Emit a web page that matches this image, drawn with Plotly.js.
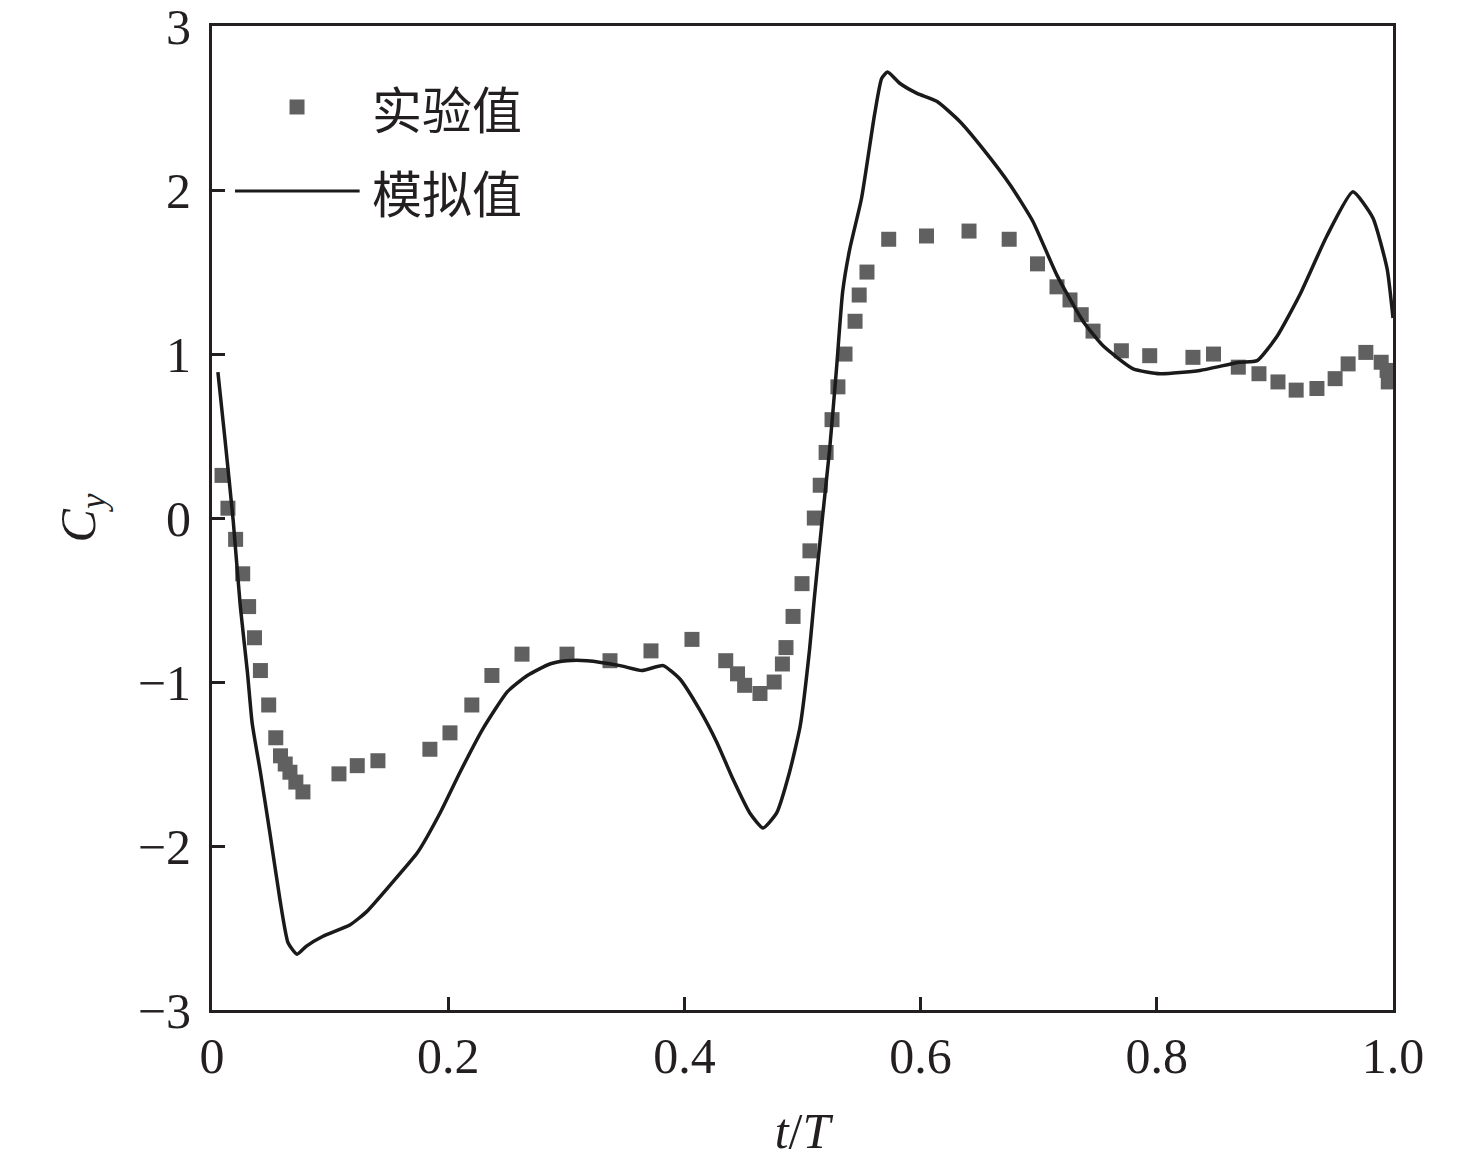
<!DOCTYPE html>
<html>
<head>
<meta charset="utf-8">
<script src="https://cdn.plot.ly/plotly-3.0.1.min.js"></script>
<style>
  html, body { margin: 0; padding: 0; background: #fff; }
  #myPlot { width: 1476px; height: 1163px; }
</style>
</head>
<body>
<div id="myPlot"></div>
<script>
const expT = [0.0085, 0.0135, 0.020, 0.026, 0.031, 0.036, 0.041, 0.048, 0.054, 0.058, 0.062, 0.066,
  0.071, 0.077, 0.1075, 0.123, 0.1405, 0.1845, 0.2015, 0.220, 0.237, 0.2625, 0.3006, 0.337,
  0.3717, 0.4064, 0.435, 0.445, 0.451, 0.464, 0.476, 0.483, 0.486, 0.492, 0.4996, 0.5063,
  0.510, 0.515, 0.520, 0.525, 0.530, 0.536, 0.5445, 0.548, 0.5546, 0.573, 0.605, 0.641,
  0.675, 0.699, 0.7155, 0.7265, 0.736, 0.746, 0.770, 0.794, 0.8306, 0.848, 0.869, 0.8865,
  0.9026, 0.918, 0.9356, 0.951, 0.962, 0.977, 0.990, 0.995, 0.996];
const expCy = [0.26, 0.06, -0.13, -0.34, -0.54, -0.73, -0.93, -1.14, -1.34, -1.45, -1.50, -1.55,
  -1.61, -1.67, -1.56, -1.51, -1.48, -1.41, -1.31, -1.14, -0.96, -0.83, -0.83, -0.87,
  -0.81, -0.74, -0.87, -0.95, -1.02, -1.07, -1.00, -0.89, -0.79, -0.60, -0.40, -0.20,
  0.00, 0.20, 0.40, 0.60, 0.80, 1.00, 1.20, 1.36, 1.50, 1.70, 1.72, 1.75,
  1.70, 1.55, 1.41, 1.33, 1.24, 1.14, 1.02, 0.99, 0.98, 1.00, 0.92, 0.88,
  0.83, 0.78, 0.79, 0.85, 0.94, 1.01, 0.95, 0.90, 0.83];

// Simulated values (solid line)
const simT = [0.005, 0.011, 0.018, 0.024, 0.030, 0.034, 0.041, 0.049, 0.0576, 0.0644, 0.072, 0.080,
  0.094, 0.117, 0.131, 0.153, 0.174, 0.193, 0.210, 0.229, 0.250, 0.267, 0.286, 0.3006,
  0.3175, 0.3455, 0.364, 0.382, 0.396, 0.413, 0.4276, 0.441, 0.4555, 0.4666, 0.478, 0.489,
  0.498, 0.506, 0.510, 0.517, 0.523, 0.529, 0.534, 0.540, 0.550, 0.561, 0.567, 0.572,
  0.5826, 0.597, 0.614, 0.633, 0.653, 0.676, 0.695, 0.7155, 0.7375, 0.7545, 0.780, 0.803,
  0.8366, 0.870, 0.885, 0.902, 0.921, 0.944, 0.966, 0.983, 0.995, 1.000];
const simCy = [0.89, 0.48, -0.02, -0.54, -0.94, -1.25, -1.55, -1.92, -2.33, -2.59, -2.66, -2.61,
  -2.55, -2.48, -2.40, -2.22, -2.04, -1.80, -1.55, -1.29, -1.06, -0.96, -0.89, -0.87,
  -0.87, -0.90, -0.93, -0.90, -0.98, -1.17, -1.37, -1.59, -1.80, -1.89, -1.80, -1.55,
  -1.27, -0.80, -0.49, 0.01, 0.42, 0.93, 1.38, 1.64, 1.95, 2.46, 2.68, 2.72,
  2.65, 2.59, 2.54, 2.42, 2.25, 2.03, 1.81, 1.48, 1.20, 1.05, 0.91, 0.88,
  0.90, 0.95, 0.96, 1.11, 1.36, 1.72, 1.99, 1.83, 1.52, 1.22];

const xTickVals = [0, 0.2, 0.4, 0.6, 0.8, 1.0];
const xTickText = ['0', '0.2', '0.4', '0.6', '0.8', '1.0'];
const yTickVals = [-3, -2, -1, 0, 1, 2, 3];
const yTickText = ['\u22123', '\u22122', '\u22121', '0', '1', '2', '3'];

const legendNames = ['实验值', '模拟值'];

const axisColor = '#231f20';
const serif = 'Liberation Serif, Times New Roman, serif';
const cjk = 'Noto Sans CJK SC, sans-serif';

const data = [{
  x: expT,
  y: expCy,
  mode: 'markers',
  type: 'scatter',
  name: legendNames[0],
  marker: {symbol: 'square', size: 15, color: '#606060'},
  showlegend: false
}, {
  x: simT,
  y: simCy,
  mode: 'lines',
  type: 'scatter',
  name: legendNames[1],
  line: {color: '#1a1a1a', width: 3.5, shape: 'spline', smoothing: 0.5},
  showlegend: false
}];

// Hand-drawn legend in the upper left corner (paper coordinates)
const shapes = [{
  type: 'rect', xref: 'paper', yref: 'paper',
  xsizemode: 'pixel', ysizemode: 'pixel',
  xanchor: 0.072, yanchor: 0.9177,
  x0: -7.5, x1: 7.5, y0: -7.5, y1: 7.5,
  fillcolor: '#606060', line: {width: 0}
}, {
  type: 'line', xref: 'paper', yref: 'paper',
  x0: 0.0195, x1: 0.125, y0: 0.8323, y1: 0.8323,
  line: {color: '#1a1a1a', width: 3}
}];

const annotations = [{
  xref: 'paper', yref: 'paper', x: 0.134, y: 0.9177,
  xanchor: 'left', yanchor: 'middle', showarrow: false,
  text: legendNames[0], font: {family: cjk, size: 50, color: '#231f20'}
}, {
  xref: 'paper', yref: 'paper', x: 0.134, y: 0.8323,
  xanchor: 'left', yanchor: 'middle', showarrow: false,
  text: legendNames[1], font: {family: cjk, size: 50, color: '#231f20'}
}];

const layout = {
  width: 1476,
  height: 1163,
  margin: {l: 212, r: 83, t: 26, b: 153},
  paper_bgcolor: '#fff',
  plot_bgcolor: '#fff',
  font: {family: serif, size: 50, color: '#231f20'},
  xaxis: {
    range: [0, 1],
    tickmode: 'array',
    tickvals: xTickVals,
    ticktext: xTickText,
    ticks: 'inside', ticklen: 13, tickwidth: 3, tickcolor: axisColor,
    showline: true, linewidth: 3, linecolor: axisColor, mirror: true,
    showgrid: false, zeroline: false,
    ticklabelstandoff: 0,
    ticklabeloverflow: 'allow',
    title: {text: '<i>t</i>/<i>T</i>', font: {family: serif, size: 50}, standoff: 30}
  },
  yaxis: {
    range: [-3, 3.0005],
    tickmode: 'array',
    tickvals: yTickVals,
    ticktext: yTickText,
    ticks: 'inside', ticklen: 13, tickwidth: 3, tickcolor: axisColor,
    showline: true, linewidth: 3, linecolor: axisColor, mirror: true,
    showgrid: false, zeroline: false,
    ticklabelstandoff: 8,
    ticklabeloverflow: 'allow',
    title: {text: '<i>C</i><sub><i>y</i></sub>', font: {family: serif, size: 50}, standoff: 27}
  },
  shapes: shapes,
  annotations: annotations,
  showlegend: false
};

Plotly.newPlot('myPlot', data, layout, {displayModeBar: false, staticPlot: true});
</script>
</body>
</html>
